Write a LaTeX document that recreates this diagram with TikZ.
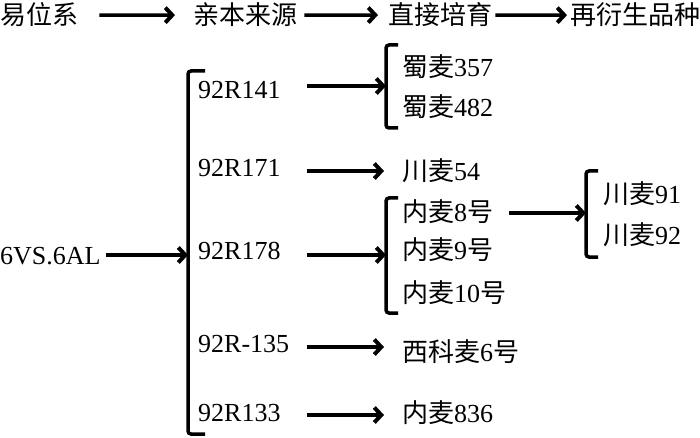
\documentclass[tikz,border=0pt]{standalone}
\usepackage{fontspec}
\setmainfont{Liberation Serif}
\newfontfamily\cjk{Noto Sans CJK SC}
\newcommand{\zh}[1]{{\cjk #1}}
\usetikzlibrary{arrows.meta}

\tikzset{
  lbl/.style={anchor=base west, inner sep=0pt, font=\fontsize{26}{30}\selectfont},
  arr/.style={line width=3.5pt, -{Straight Barb[length=7pt,width=15pt,line width=4pt]}},
  brk/.style={line width=3.5pt, rounded corners=3pt}
}

\begin{document}
\begin{tikzpicture}[x=1pt,y=-1pt]
\useasboundingbox (0,0) rectangle (700,438);

% header row
\node[lbl] (h1) at (0,25) {\zh{易位系}};
\node[lbl] (h2) at (193,25) {\zh{亲本来源}};
\node[lbl] (h3) at (388,25) {\zh{直接培育}};
\node[lbl] (h4) at (570,25) {\zh{再衍生品种}};
\draw[arr, shorten <=21pt, shorten >=18pt] (h1.east) -- (h2.west);
\draw[arr, shorten <=7pt, shorten >=10pt] (h2.east) -- (h3.west);
\draw[arr, shorten <=3pt, shorten >=3pt] (h3.east) -- (h4.west);

% translocation line
\node[lbl] (src) at (0,264) {6VS.6AL};
\coordinate (k0) at (188,255);
\draw[brk] (205,71) -- (188,71) -- (188,434) -- (205,434);
\draw[arr, shorten <=5pt] (src.east |- k0) -- (k0);

% parents
\node[lbl] (p1) at (198,99) {92R141};
\node[lbl] (p2) at (198,177) {92R171};
\node[lbl] (p3) at (198,259) {92R178};
\node[lbl] (p4) at (198,352) {92R-135};
\node[lbl] (p5) at (198,421) {92R133};
\coordinate (s) at (307,0);

% direct cultivars
\node[lbl] (c1) at (402,77) {\zh{蜀麦}357};
\node[lbl] (c2) at (402,117) {\zh{蜀麦}482};
\node[lbl] (c3) at (402,181) {\zh{川麦}54};
\node[lbl] (c4) at (402,221) {\zh{内麦}8\zh{号}};
\node[lbl] (c5) at (402,259) {\zh{内麦}9\zh{号}};
\node[lbl] (c6) at (402,302) {\zh{内麦}10\zh{号}};
\node[lbl] (c7) at (402,361) {\zh{西科麦}6\zh{号}};
\node[lbl] (c8) at (402,422) {\zh{内麦}836};

\draw[brk] (398,45) -- (386,45) -- (386,128) -- (398,128);
\draw[brk] (398,198) -- (386,198) -- (386,313) -- (398,313);
\coordinate (k1) at (386,86);
\coordinate (k3) at (386,255);
\coordinate (e) at (384,0);

\draw[arr] (s |- k1) -- (k1);
\draw[arr] (s |- 0,171) -- (e |- 0,171);
\draw[arr] (s |- k3) -- (k3);
\draw[arr] (s |- 0,347) -- (e |- 0,347);
\draw[arr] (s |- 0,415) -- (e |- 0,415);

% derived cultivars
\node[lbl] (g1) at (603,204) {\zh{川麦}91};
\node[lbl] (g2) at (603,244) {\zh{川麦}92};
\draw[brk] (598,171) -- (586,171) -- (586,257) -- (598,257);
\coordinate (k4) at (586,213);
\draw[arr] (509,213) -- (k4);

\end{tikzpicture}
\end{document}
